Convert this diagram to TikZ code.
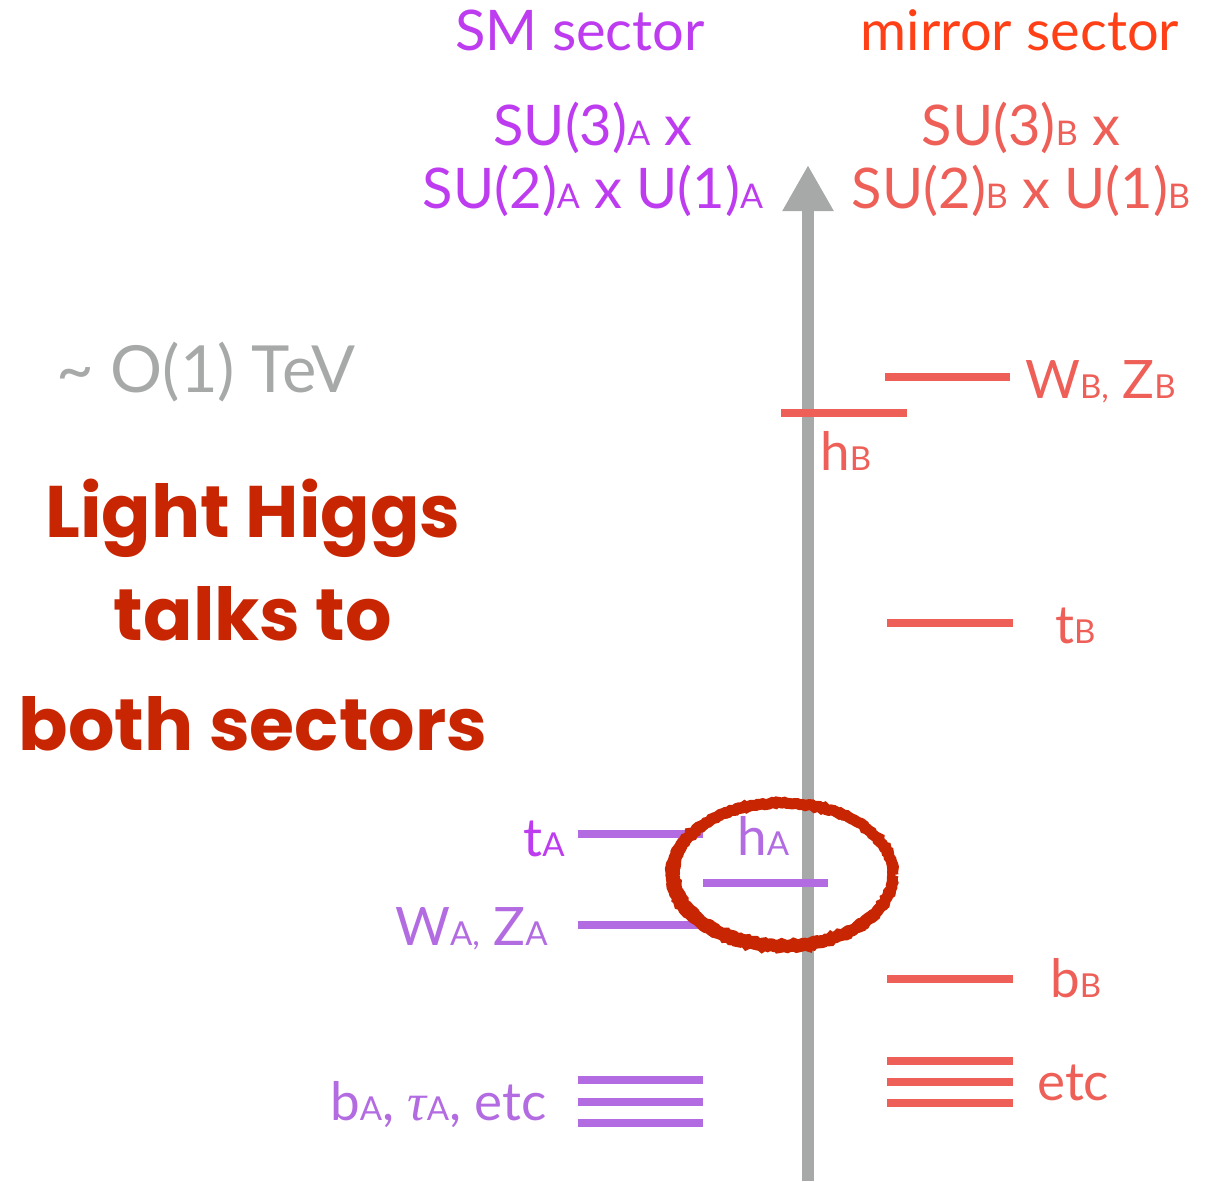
\documentclass[tikz,border=0pt]{standalone}
\usepackage{fontspec}
\setmainfont{Lato}
\newfontfamily\handfont{Poppins}
\newfontfamily\taufont{Liberation Serif}
\usetikzlibrary{arrows.meta,decorations.pathmorphing}
\definecolor{smpurple}{HTML}{BE3CF0}
\definecolor{lpurple}{HTML}{B36BE2}
\definecolor{mirrorred}{HTML}{FF4017}
\definecolor{salmon}{HTML}{EE5F58}
\definecolor{axisgray}{HTML}{A6A9A8}
\definecolor{handred}{HTML}{C82503}
\newcommand\subl[1]{{\fontsize{34}{34}\selectfont #1}}
\newcommand\subs[1]{{\fontsize{33}{33}\selectfont #1}}
\tikzset{
  hdr/.style={inner sep=0pt,font=\fontsize{56}{60}\selectfont},
  lbl/.style={inner sep=0pt,font=\fontsize{53}{58}\selectfont},
  hand/.style={inner sep=0pt,font=\handfont\fontsize{73}{80}\selectfont\bfseries,text=handred},
  lvA/.style={draw=lpurple,line width=8pt},
  lvB/.style={draw=salmon,line width=8pt},
  chalk/.style={draw=handred,decorate,decoration={random steps,segment length=2.5pt,amplitude=1pt}},
}
\begin{document}
\begin{tikzpicture}[x=1pt,y=-1pt]
\useasboundingbox (0,0) rectangle (1213,1181);
% axis
\coordinate (axbot) at (808,1181);
\coordinate (axtop) at (808,165);
\draw[axisgray,line width=12pt,-{Triangle[width=48pt,length=46pt]}] (axbot) -- (axtop);
% headers
\node[hdr,anchor=base,text=smpurple] (smh) at (580,50) {SM sector};
\node[hdr,anchor=base,text=mirrorred] (mih) at (1020,50) {mirror sector};
\node[hdr,anchor=base,text=smpurple] (sua1) at (593,145) {SU(3)\subl{A} x};
\node[hdr,anchor=base,text=smpurple] (sua2) at (593,208) {SU(2)\subl{A} x U(1)\subl{A}};
\node[hdr,anchor=base,text=salmon] (sub1) at (1021,145) {SU(3)\subl{B} x};
\node[hdr,anchor=base,text=salmon] (sub2) at (1021,208) {SU(2)\subl{B} x U(1)\subl{B}};
\node[hdr,anchor=base,text=axisgray,font=\fontsize{65}{70}\selectfont] (tev) at (206,392) {\textasciitilde\ O(1) TeV};
% handwriting
\node[hand,anchor=base] (h1) at (253,537) {Light Higgs};
\node[hand,anchor=base] (h2) at (253,640) {talks to};
\node[hand,anchor=base] (h3) at (253,750) {both sectors};
% B levels
\draw[lvB] (885,377) -- (1010,377);
\node[lbl,anchor=base west,text=salmon] (wzb) at (1025,398) {W\subs{B,} Z\subs{B}};
\draw[lvB] (781,413) -- (907,413);
\node[lbl,anchor=base west,text=salmon] (hb) at (820,470) {h\subs{B}};
\draw[lvB] (887,623) -- (1013,623);
\node[lbl,anchor=base west,text=salmon] (tb) at (1055,643) {t\subs{B}};
\draw[lvB] (887,979) -- (1013,979);
\node[lbl,anchor=base west,text=salmon] (bb) at (1050,997) {b\subs{B}};
\foreach \yy in {1061,1082,1103} \draw[lvB] (887,\yy) -- (1013,\yy);
\node[lbl,anchor=base west,text=salmon] (etcb) at (1037,1100) {etc};
% A levels
\draw[lvA] (578,834) -- (703,834);
\node[lbl,anchor=base east,text=smpurple] (ta) at (565,856) {t\subs{A}};
\draw[lvA] (578,925) -- (703,925);
\node[lbl,anchor=base east,text=lpurple] (wza) at (548,945) {W\subs{A,} Z\subs{A}};
\draw[lvA] (703,883) -- (828,883);
\node[lbl,anchor=base west,text=lpurple] (ha) at (737,855) {h\subs{A}};
\foreach \yy in {1080,1102,1123} \draw[lvA] (578,\yy) -- (703,\yy);
\node[lbl,anchor=base east,text=lpurple] (ba) at (547,1120) {b\subs{A}, {\taufont\itshape τ}\subs{A}, etc};
% circle
\draw[chalk,line width=11pt] (782,875) ellipse [x radius=111pt,y radius=72pt];
\draw[chalk,line width=8pt] (784,873) ellipse [x radius=108pt,y radius=70pt];
\end{tikzpicture}
\end{document}
